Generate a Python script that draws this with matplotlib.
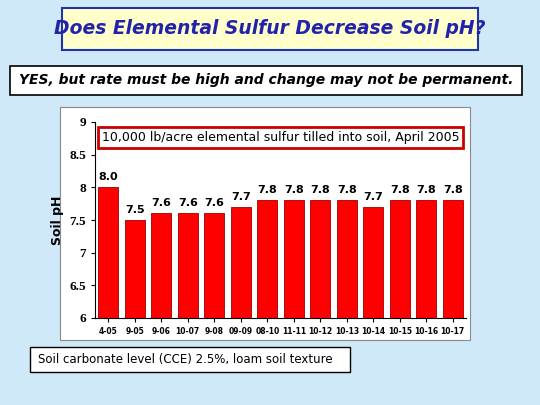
import matplotlib
matplotlib.use("Agg")
import matplotlib.pyplot as plt
from matplotlib.patches import Rectangle

categories = ["4-05","9-05","9-06","10-07","9-08","09-09","08-10","11-11","10-12","10-13","10-14","10-15","10-16","10-17"]
values = [8.0,7.5,7.6,7.6,7.6,7.7,7.8,7.8,7.8,7.8,7.7,7.8,7.8,7.8]
labels = ["8.0","7.5","7.6","7.6","7.6","7.7","7.8","7.8","7.8","7.8","7.7","7.8","7.8","7.8"]

W, H = 540, 405
fig = plt.figure(figsize=(W/100, H/100), dpi=100)
fig.patch.set_facecolor("#cfe9f9")

def box(x0, y0, x1, y1, fc, ec, lw):
    fig.patches.append(Rectangle((x0/W, 1-y1/H), (x1-x0)/W, (y1-y0)/H, transform=fig.transFigure,
                                 facecolor=fc, edgecolor=ec, linewidth=lw, zorder=-5))

box(62, 8, 478, 50, "#ffffcc", "#2233aa", 1.5)
fig.text(270/W, 1-29/H, "Does Elemental Sulfur Decrease Soil pH?", ha="center", va="center",
         fontsize=13.5, fontweight="bold", style="italic", color="#2222aa")
box(10, 66, 522, 95, "white", "black", 1.2)
fig.text(266/W, 1-80/H, "YES, but rate must be high and change may not be permanent.", ha="center", va="center",
         fontsize=10, fontweight="bold", style="italic", color="black")
box(60, 107, 470, 340, "white", "#888888", 0.8)
box(30, 347, 350, 372, "white", "black", 1.0)
fig.text(38/W, 1-359/H, "Soil carbonate level (CCE) 2.5%, loam soil texture", ha="left", va="center", fontsize=8.5)

ax = fig.add_axes([95/W, 1-318/H, (466-95)/W, (318-122)/H], zorder=5)
ax.set_facecolor("white")
x = range(len(categories))
ax.bar(x, [v-6 for v in values], bottom=6, width=0.75, color="#ff0000", edgecolor="#990000", linewidth=0.6)
for i, (v, l) in enumerate(zip(values, labels)):
    ax.text(i, v+0.08, l, ha="center", va="bottom", fontsize=8, fontweight="bold")
ax.set_ylim(6, 9)
ax.set_xlim(-0.5, len(categories)-0.5)
ax.set_yticks([6, 6.5, 7, 7.5, 8, 8.5, 9])
ax.set_yticklabels(["6", "6.5", "7", "7.5", "8", "8.5", "9"], fontfamily="Liberation Serif", fontsize=9.5, fontweight="bold")
ax.set_xticks(list(x))
ax.set_xticklabels(categories, fontsize=5.5, fontweight="bold")
ax.set_ylabel("Soil pH", fontsize=9, fontweight="bold")
ax.tick_params(length=3)
for s in ["top", "right"]:
    ax.spines[s].set_visible(False)
ax.text(0.5, 0.92, "10,000 lb/acre elemental sulfur tilled into soil, April 2005", transform=ax.transAxes,
        ha="center", va="center", fontsize=9,
        bbox=dict(boxstyle="square,pad=0.3", facecolor="white", edgecolor="#cc0000", linewidth=2))
fig.savefig("out.png", dpi=100, facecolor=fig.get_facecolor())
